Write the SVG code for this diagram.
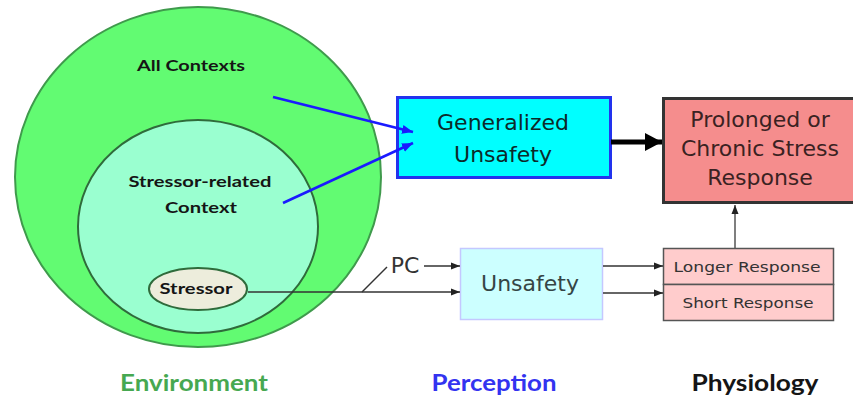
<svg xmlns="http://www.w3.org/2000/svg" width="853" height="402" viewBox="0 0 853 402">
  <style>
    .ctx { font-family: Lato, "Open Sans", "Liberation Sans", sans-serif; font-weight: bold; font-size: 16px; fill: #151515; text-anchor: middle; }
    .box { font-family: "DejaVu Sans", Verdana, sans-serif; font-size: 22px; text-anchor: middle; }
    .small { font-family: "DejaVu Sans", Verdana, sans-serif; font-size: 14px; fill: #333; text-anchor: middle; }
    .col { font-family: Lato, "Open Sans", "Liberation Sans", sans-serif; font-weight: bold; font-size: 22px; text-anchor: middle; }
    .thin { stroke: #333; stroke-width: 1.5; fill: none; }
    .blue { stroke: #1a1aff; stroke-width: 2.5; fill: none; }
  </style>
  <defs>
    <marker id="headThin" markerUnits="userSpaceOnUse" markerWidth="10" markerHeight="8" refX="9" refY="4" orient="auto">
      <path d="M0,0.5 L9,4 L0,7.5 Z" fill="#222"/>
    </marker>
    <marker id="headBlue" markerUnits="userSpaceOnUse" markerWidth="12" markerHeight="10" refX="11" refY="5" orient="auto">
      <path d="M0,0.5 L11,5 L0,9.5 Z" fill="#1a1aff"/>
    </marker>
    <marker id="headBold" markerUnits="userSpaceOnUse" markerWidth="18" markerHeight="18" refX="17" refY="9" orient="auto">
      <path d="M0,0 L17,9 L0,18 Z" fill="#000"/>
    </marker>
  </defs>
  <rect width="853" height="402" fill="#fff"/>

  <!-- Environment: nested contexts -->
  <g id="all-contexts">
    <ellipse cx="198" cy="177" rx="183" ry="170" fill="#62fb72" stroke="#3f9a4c" stroke-width="2"/>
    <text class="ctx" x="191" y="71" textLength="108" lengthAdjust="spacingAndGlyphs">All Contexts</text>
  </g>
  <g id="stressor-context">
    <ellipse cx="198" cy="226.5" rx="120" ry="106.5" fill="#9affd0" stroke="#2f6b3b" stroke-width="2"/>
    <text class="ctx" x="200" y="187" textLength="143" lengthAdjust="spacingAndGlyphs">Stressor-related</text>
    <text class="ctx" x="201" y="213" textLength="72" lengthAdjust="spacingAndGlyphs">Context</text>
  </g>
  <g id="stressor">
    <ellipse cx="198" cy="289" rx="49" ry="21" fill="#ededdc" stroke="#2f6b3b" stroke-width="2"/>
    <text class="ctx" x="196" y="294" textLength="73" lengthAdjust="spacingAndGlyphs">Stressor</text>
  </g>

  <!-- Perception -->
  <g id="generalized-unsafety">
    <rect x="397.5" y="97.5" width="213" height="80" fill="#00ffff" stroke="#2233ee" stroke-width="3"/>
    <text class="box" x="503" y="130" fill="#0d2a2a">Generalized</text>
    <text class="box" x="503" y="162" fill="#0d2a2a">Unsafety</text>
  </g>
  <g id="unsafety">
    <rect x="460.5" y="248.5" width="142" height="71" fill="#ccffff" stroke="#c4c8ff" stroke-width="1.5"/>
    <text class="box" x="530" y="291" fill="#354545">Unsafety</text>
  </g>
  <g id="pc-label">
    <text class="box" x="405" y="273" fill="#333">PC</text>
  </g>

  <!-- Physiology -->
  <g id="chronic-response">
    <rect x="663.5" y="98.5" width="200" height="104" fill="#f58d8d" stroke="#333" stroke-width="3"/>
    <text class="box" x="760" y="127" fill="#3a2222">Prolonged or</text>
    <text class="box" x="760" y="156" fill="#3a2222">Chronic Stress</text>
    <text class="box" x="760" y="185" fill="#3a2222">Response</text>
  </g>
  <g id="longer-response">
    <rect x="663.5" y="248.5" width="170" height="36" fill="#ffcccc" stroke="#555" stroke-width="1.5"/>
    <text class="small" x="747" y="272" textLength="147" lengthAdjust="spacingAndGlyphs">Longer Response</text>
  </g>
  <g id="short-response">
    <rect x="663.5" y="284.5" width="170" height="36" fill="#ffcccc" stroke="#555" stroke-width="1.5"/>
    <text class="small" x="748" y="308" textLength="131" lengthAdjust="spacingAndGlyphs">Short Response</text>
  </g>

  <!-- Connectors -->
  <g id="connectors">
    <line class="blue" x1="273" y1="97" x2="413" y2="132" marker-end="url(#headBlue)"/>
    <line class="blue" x1="283" y1="203" x2="413" y2="143" marker-end="url(#headBlue)"/>
    <line x1="611" y1="142" x2="662" y2="142" stroke="#000" stroke-width="5" marker-end="url(#headBold)"/>
    <line class="thin" x1="248" y1="292" x2="460" y2="292" marker-end="url(#headThin)"/>
    <line class="thin" x1="362" y1="292" x2="387" y2="267"/>
    <line class="thin" x1="424" y1="266" x2="460" y2="266" marker-end="url(#headThin)"/>
    <line class="thin" x1="603" y1="266" x2="663" y2="266" marker-end="url(#headThin)"/>
    <line class="thin" x1="603" y1="293" x2="663" y2="293" marker-end="url(#headThin)"/>
    <line x1="735" y1="248" x2="735" y2="205" stroke="#555" stroke-width="1.5" marker-end="url(#headThin)"/>
  </g>

  <!-- Column titles -->
  <g id="column-titles">
    <text class="col" x="194" y="391" fill="#46a851" textLength="148" lengthAdjust="spacingAndGlyphs">Environment</text>
    <text class="col" x="494" y="391" fill="#3333f0" textLength="125" lengthAdjust="spacingAndGlyphs">Perception</text>
    <text class="col" x="755" y="391" fill="#151515" textLength="127" lengthAdjust="spacingAndGlyphs">Physiology</text>
  </g>
</svg>
